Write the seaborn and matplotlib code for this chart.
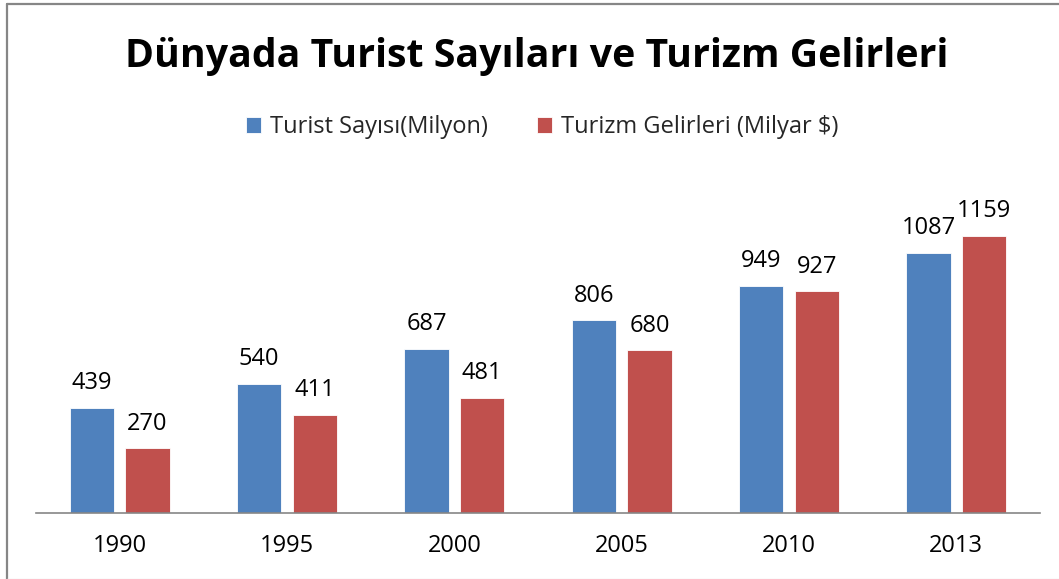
import numpy as np
import pandas as pd
import matplotlib.pyplot as plt
import seaborn as sns
from matplotlib.lines import Line2D

# data
years = ['1990', '1995', '2000', '2005', '2010', '2013']
turist_sayisi = [439, 540, 687, 806, 949, 1087]
turizm_gelirleri = [270, 411, 481, 680, 927, 1159]
series_names = ['Turist Sayısı(Milyon)', 'Turizm Gelirleri (Milyar $)']

df = pd.DataFrame({
    'Yıl': years * 2,
    'Değer': turist_sayisi + turizm_gelirleri,
    'Seri': [series_names[0]] * len(years) + [series_names[1]] * len(years),
})

sns.set_style('white')
plt.rcParams['font.family'] = ['Open Sans', 'DejaVu Sans']

W, H = 1059, 579
fig = plt.figure(figsize=(W / 100, H / 100), dpi=100)
ax = fig.add_axes([36 / W, 66 / H, 1004 / W, 335 / H])

# Office 2007 colours
palette = ['#4F81BD', '#C0504D']
sns.barplot(data=df, x='Yıl', y='Değer', hue='Seri', palette=palette,
            width=0.664, gap=0.199, saturation=1, edgecolor='white',
            linewidth=0.6, ax=ax, legend=True)

for cont in ax.containers:
    ax.bar_label(cont, fmt='%d', padding=9, fontsize=17, color='black')

ax.set_ylim(0, 1400)
ax.set_xlim(-0.5, 5.5)
ax.set_xlabel('')
ax.set_ylabel('')
ax.set_yticks([])
ax.tick_params(axis='x', length=0, pad=15, labelsize=17, colors='black')
for s in ['top', 'left', 'right']:
    ax.spines[s].set_visible(False)
ax.spines['bottom'].set_color('#868686')
ax.spines['bottom'].set_linewidth(1.2)

handles, labels = ax.get_legend_handles_labels()
ax.get_legend().remove()
fig.legend(handles, labels, loc='center', bbox_to_anchor=(542 / W, 1 - 127 / H),
           ncol=2, frameon=False, fontsize=17, handlelength=0.65,
           handleheight=0.65, handletextpad=0.35, columnspacing=2.1)

fig.text(537 / W, 1 - 56 / H, 'Dünyada Turist Sayıları ve Turizm Gelirleri',
         ha='center', va='center', fontsize=28.3, fontweight='bold', color='black')

# chart frame: gray left and top edges, faint bottom edge
x0, y0 = 6.5 / W, 1 - 3.5 / H
fig.lines.append(Line2D([x0, x0], [0, y0], transform=fig.transFigure,
                        color='#868686', linewidth=1.6))
fig.lines.append(Line2D([x0, 1], [y0, y0], transform=fig.transFigure,
                        color='#868686', linewidth=1.6))
fig.lines.append(Line2D([x0, 1], [0.5 / H, 0.5 / H], transform=fig.transFigure,
                        color='#eeeeee', linewidth=1))

fig.savefig('out.png', dpi=100)
